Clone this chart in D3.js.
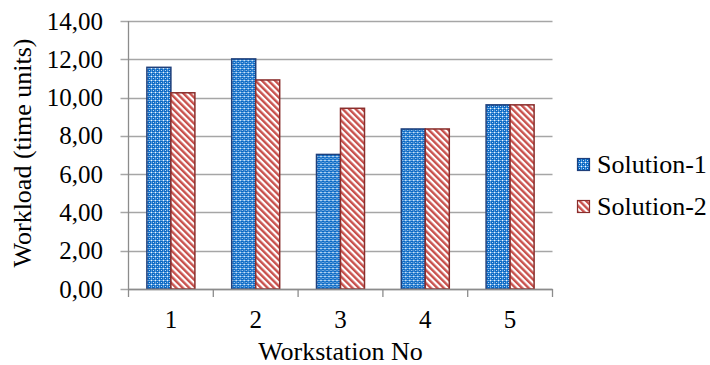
<!DOCTYPE html>
<html><head><meta charset="utf-8">
<script src="https://cdn.jsdelivr.net/npm/d3@7"></script>
<style>body{margin:0;background:#fff}svg{display:block}svg text{font-family:'Liberation Serif' !important}</style>
</head><body><svg id="c" width="710" height="365"></svg>
<script>
const categories = ["1","2","3","4","5"];
const seriesNames = ["Solution-1","Solution-2"];
const solution1 = [11.58, 12.02, 7.03, 8.36, 9.62];
const solution2 = [10.25, 10.92, 9.44, 8.36, 9.62];
const yTicks = [0,2,4,6,8,10,12,14];
const xTitle = "Workstation No";
const yTitle = "Workload (time units)";

const svg = d3.select("#c");
const FONT = "'Liberation Serif'";
const m = {l:128.5, r:552.5, t:21, b:289};
const x0 = d3.scaleBand().domain(categories).range([m.l, m.r]).padding(0);
const groupFrac = 0.566;
const x1 = d3.scaleBand().domain(seriesNames).range([0, x0.bandwidth()*groupFrac]).padding(0);
const y = d3.scaleLinear().domain([0,14]).range([m.b, m.t]);
const fmt = v => d3.format(".2f")(v).replace(".", ",");

const defs = svg.append("defs");
const p1 = defs.append("pattern").attr("id","p1").attr("patternUnits","userSpaceOnUse").attr("width",4).attr("height",4);
p1.append("rect").attr("width",4).attr("height",4).attr("fill","#0866C2");
p1.append("rect").attr("x",0).attr("y",0).attr("width",4).attr("height",1).attr("fill","#5FA2E0");
p1.append("rect").attr("x",0).attr("y",0).attr("width",1).attr("height",4).attr("fill","#5FA2E0");
p1.append("rect").attr("x",0).attr("y",0).attr("width",1).attr("height",1).attr("fill","#ffffff");
p1.append("rect").attr("x",2).attr("y",2).attr("width",1).attr("height",1).attr("fill","#CFE3F7");
const p2 = defs.append("pattern").attr("id","p2").attr("patternUnits","userSpaceOnUse").attr("width",4.6).attr("height",10).attr("patternTransform","rotate(-45)");
p2.append("rect").attr("width",4.6).attr("height",10).attr("fill","#ffffff");
p2.append("rect").attr("width",2.4).attr("height",10).attr("fill","#C8504C");

svg.append("g").selectAll("line").data(yTicks).join("line")
  .attr("x1", m.l-8).attr("x2", m.r).attr("y1", d=>Math.round(y(d))+0.5).attr("y2", d=>Math.round(y(d))+0.5)
  .attr("stroke","#A6A6A6").attr("stroke-width",1.3);
svg.append("line").attr("x1",m.l).attr("x2",m.l).attr("y1",m.t).attr("y2",m.b).attr("stroke","#8C8C8C").attr("stroke-width",1.3);

svg.append("g").selectAll("text").data(yTicks).join("text")
  .attr("x",103).attr("y",d=>y(d)+8.5).attr("text-anchor","end").style("font-family",FONT).style("font-size","25px").text(fmt);

const data = categories.map((c,i)=>({c, vals:[solution1[i], solution2[i]]}));
const fills = ["url(#p1)","url(#p2)"];
const strokes = ["#1F3F7A","#8A2E2C"];
const groups = svg.append("g").selectAll("g").data(data).join("g")
  .attr("transform", d=>`translate(${x0(d.c)+x0.bandwidth()*(1-groupFrac)/2},0)`);
groups.selectAll("rect").data(d=>d.vals.map((v,j)=>({s:seriesNames[j], v, j}))).join("rect")
  .attr("x", d=>x1(d.s)).attr("width", x1.bandwidth())
  .attr("y", d=>y(d.v)).attr("height", d=>y(0)-y(d.v))
  .attr("fill", d=>fills[d.j]).attr("stroke", d=>strokes[d.j]).attr("stroke-width",1.5);

svg.append("line").attr("x1",m.l).attr("x2",m.r).attr("y1",m.b+0.5).attr("y2",m.b+0.5).attr("stroke","#8C8C8C").attr("stroke-width",1.3);
const bounds = categories.map(c=>x0(c)).concat([m.r]);
svg.append("g").selectAll("line").data(bounds).join("line")
  .attr("x1",d=>d).attr("x2",d=>d).attr("y1",m.b).attr("y2",m.b+8).attr("stroke","#8C8C8C").attr("stroke-width",1.3);
svg.append("g").selectAll("text").data(categories).join("text")
  .attr("x",d=>x0(d)+x0.bandwidth()/2).attr("y",328).attr("text-anchor","middle").style("font-family",FONT).style("font-size","25px").text(d=>d);

svg.append("text").attr("x",(m.l+m.r)/2).attr("y",360).attr("text-anchor","middle").style("font-family",FONT).style("font-size","26px").text(xTitle);
svg.append("text").attr("transform","translate(30.5,153) rotate(-90)").attr("text-anchor","middle").style("font-family",FONT).style("font-size","26px").text(yTitle);

const lg = svg.append("g").selectAll("g").data(seriesNames).join("g")
  .attr("transform",(d,i)=>`translate(577,${158+i*42})`);
lg.append("rect").attr("x",0.5).attr("y",0.5).attr("width",12).attr("height",12)
  .attr("fill",(d,i)=>fills[i]).attr("stroke",(d,i)=>strokes[i]).attr("stroke-width",1.2);
lg.append("text").attr("x",20).attr("y",15).style("font-family",FONT).style("font-size","26px").text(d=>d);
</script></body></html>
